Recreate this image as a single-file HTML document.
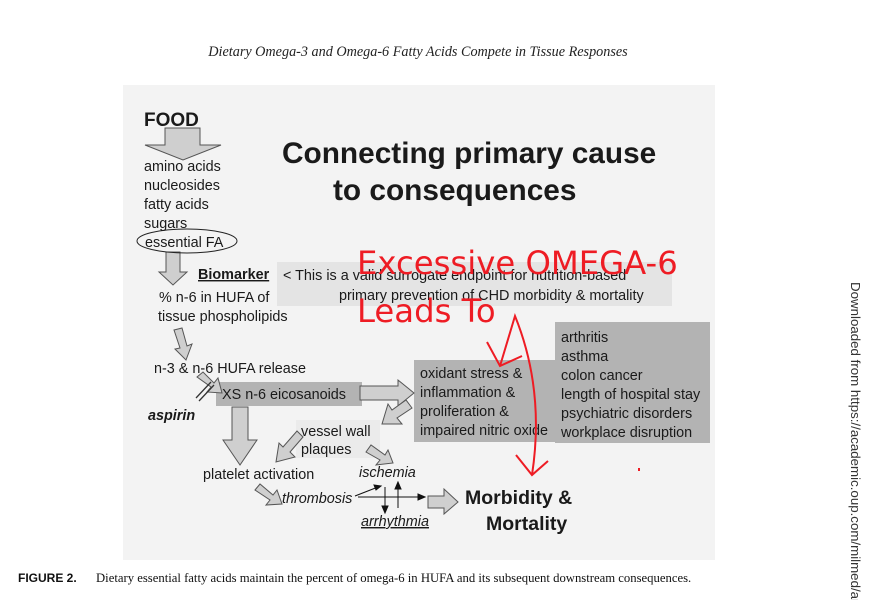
<!DOCTYPE html>
<html><head><meta charset="utf-8"><style>
html,body{margin:0;padding:0;background:#fff;width:884px;height:600px;overflow:hidden}
svg{display:block}
text{font-family:"Liberation Sans",Arial,sans-serif}
</style></head><body>
<svg width="884" height="600" viewBox="0 0 884 600" xmlns="http://www.w3.org/2000/svg">
<text x="418" y="56" text-anchor="middle" font-style="italic" font-size="14.2" fill="#222" style="font-family:'Liberation Serif',serif">Dietary Omega-3 and Omega-6 Fatty Acids Compete in Tissue Responses</text>
<rect x="123" y="85" width="592" height="475" fill="#f3f3f3"/>
<rect x="277" y="262" width="395" height="44" fill="#e4e4e4"/>
<rect x="296" y="420" width="84" height="38" fill="#ebebeb"/>
<rect x="414" y="360" width="142" height="82" fill="#b3b3b3"/>
<rect x="555" y="322" width="155" height="121" fill="#b3b3b3"/>
<rect x="216" y="382" width="146" height="24" fill="#b3b3b3"/>
<g fill="#cfcfcf" stroke="#555" stroke-width="1">
<polygon points="165,128 200,128 200,145 221,145 183,160 145,145 165,145"/>
<polygon points="166,252 180,252 180,272 187,272 173,285 159,272 166,272"/>
<polygon points="174,330 182,328 187,346 192,344 186,360 175,349 180,348"/>
<polygon points="360,386 398,386 398,380 414,393 398,406 398,400 360,400"/>
<polygon points="232,407 248,407 248,440 257,440 240,465 223,440 232,440"/>
<polygon points="412,408 406,400 392,410 388,404 382,424 402,424 397,418"/>
<polygon points="303,437 297,431 283,447 279,443 276,462 295,457 290,452"/>
<polygon points="366,452 371,445 385,455 388,450 393,463 376,465 380,460"/>
<polygon points="255,490 260,484 273,495 277,490 282,504 266,505 270,500"/>
<polygon points="428,496 444,496 444,489 458,502 444,514 444,508 428,508"/>
<polygon points="197,377 203,372 214,383 218,378 222,393 207,392 211,387"/>
</g>
<line x1="196" y1="398" x2="211" y2="382" stroke="#333" stroke-width="1.3"/>
<line x1="199" y1="401" x2="214" y2="385" stroke="#333" stroke-width="1.3"/>
<ellipse cx="187" cy="241" rx="50" ry="12" fill="none" stroke="#222" stroke-width="1"/>
<g font-size="14.4" fill="#1a1a1a">
<text x="144" y="126" font-weight="bold" font-size="19">FOOD</text>
<text x="144" y="171">amino acids</text>
<text x="144" y="190">nucleosides</text>
<text x="144" y="209">fatty acids</text>
<text x="144" y="228">sugars</text>
<text x="145" y="247">essential FA</text>
<text x="198" y="279" font-weight="bold" text-decoration="underline">Biomarker</text>
<text x="283" y="280">&lt; This is a valid surrogate endpoint for nutrition-based</text>
<text x="339" y="300">primary prevention of CHD morbidity &amp; mortality</text>
<text x="159" y="302">% n-6 in HUFA of</text>
<text x="158" y="321">tissue phospholipids</text>
<text x="154" y="373">n-3 &amp; n-6 HUFA release</text>
<text x="222" y="399">XS n-6 eicosanoids</text>
<text x="148" y="420" font-weight="bold" font-style="italic">aspirin</text>
<text x="301" y="436">vessel wall</text>
<text x="301" y="454">plaques</text>
<text x="203" y="479">platelet activation</text>
<text x="359" y="477" font-style="italic">ischemia</text>
<text x="282" y="503" font-style="italic">thrombosis</text>
<text x="361" y="526" font-style="italic" text-decoration="underline">arrhythmia</text>
<text x="420" y="378">oxidant stress &amp;</text>
<text x="420" y="397">inflammation &amp;</text>
<text x="420" y="416">proliferation &amp;</text>
<text x="420" y="435">impaired nitric oxide</text>
<text x="561" y="342">arthritis</text>
<text x="561" y="361">asthma</text>
<text x="561" y="380">colon cancer</text>
<text x="561" y="399">length of hospital stay</text>
<text x="561" y="418">psychiatric disorders</text>
<text x="561" y="437">workplace disruption</text>
<text x="465" y="504" font-weight="bold" font-size="19.5">Morbidity &amp;</text>
<text x="486" y="530" font-weight="bold" font-size="19.5">Mortality</text>
<text x="282" y="163" font-weight="bold" font-size="29.8">Connecting primary cause</text>
<text x="333" y="200" font-weight="bold" font-size="29.8">to consequences</text>
</g>
<g stroke="#111" stroke-width="1" fill="#111">
<line x1="355" y1="496" x2="378" y2="487"/><polygon points="381,486 374,485 376,490"/>
<line x1="358" y1="497" x2="422" y2="497"/><polygon points="425,497 418,494 418,500"/>
<line x1="385" y1="487" x2="385" y2="510"/><polygon points="385,513 382,506 388,506"/>
<line x1="398" y1="508" x2="398" y2="485"/><polygon points="398,482 395,489 401,489"/>
</g>
<g fill="#ee1c24" font-size="32.3">
<text x="357" y="274" style="font-family:'DejaVu Sans',sans-serif">Excessive OMEGA-6</text>
<text x="357" y="322" style="font-family:'DejaVu Sans',sans-serif">Leads To</text>
</g>
<g stroke="#ee1c24" stroke-width="2" fill="none">
<path d="M500,366 L515,316 Q545,390 532,475"/>
<path d="M487,342 L500,366 L522,356"/>
<path d="M516,455 L532,475 L548,461"/>
</g>
<rect x="638" y="468" width="2" height="3" fill="#ee1c24"/>
<text transform="translate(851,282) rotate(90)" font-size="13.3" fill="#333">Downloaded from https://academic.oup.com/milmed/artic</text>
<text x="18" y="582" font-size="12" font-weight="bold" fill="#111">FIGURE 2.</text>
<text x="96" y="582" font-size="12.7" fill="#111" style="font-family:'Liberation Serif',serif">Dietary essential fatty acids maintain the percent of omega-6 in HUFA and its subsequent downstream consequences.</text>
</svg>
</body></html>
